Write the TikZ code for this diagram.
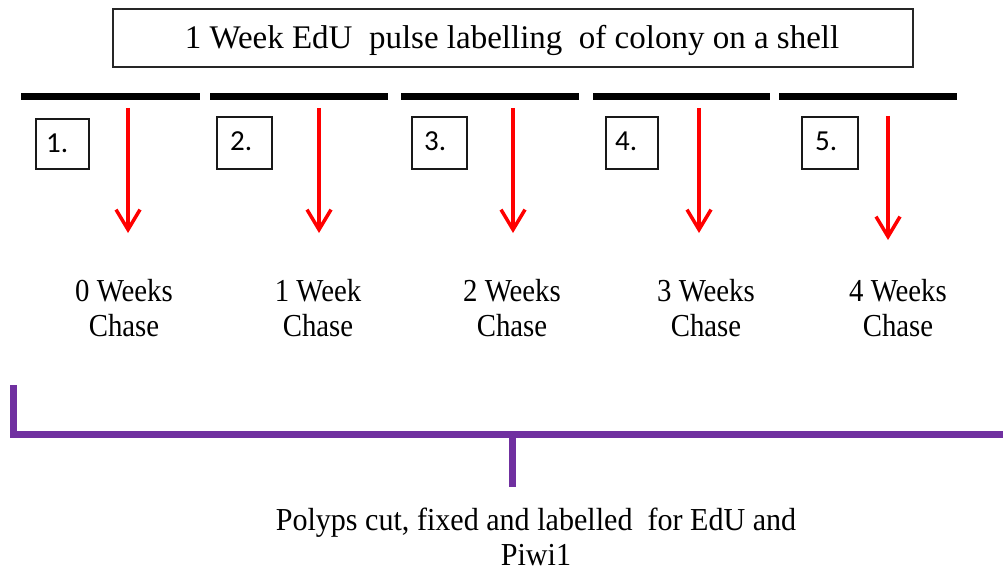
\documentclass[tikz,border=0pt]{standalone}
\usepackage{fontspec}
\setmainfont{Liberation Serif}
\newfontfamily\numfont{Carlito}
\usetikzlibrary{arrows.meta}
\definecolor{bracketpurple}{HTML}{7030A0}
\definecolor{arrowred}{HTML}{FF0000}
\tikzset{
  titlebox/.style={draw=black!85, line width=1.8pt, minimum width=800pt, minimum height=58pt, inner sep=0pt},
  timebar/.style={line width=7pt, black},
  numbox/.style={draw=black!90, line width=1.8pt, inner sep=0pt},
  numtext/.style={anchor=west, inner sep=0pt, font=\numfont\fontsize{29}{31}\selectfont},
  redarrow/.style={draw=arrowred, line width=3.5pt, -{Straight Barb[length=20pt, width=24pt, line width=3.5pt]}},
  chase/.style={align=center, inner sep=0pt, font=\fontsize{32}{35}\selectfont},
  purpleline/.style={draw=bracketpurple, line width=7pt},
  bottomtext/.style={align=center, inner sep=0pt, font=\fontsize{32}{35}\selectfont}
}
\newcommand{\narrow}[1]{\scalebox{0.9}[1]{#1}}
\newcommand{\narrowb}[1]{\scalebox{0.94}[1]{#1}}
\begin{document}
\begin{tikzpicture}[x=1pt,y=-1pt]
\useasboundingbox (0,0) rectangle (1003,572);
% title
\node[titlebox] (title) at (513,38) {};
\node[inner sep=0pt, font=\fontsize{33}{36}\selectfont] (titletext) at (512,40) {1 Week EdU\ \ pulse labelling\ \ of colony on a shell};
% bars
\draw[timebar] (21,97) coordinate (b1l) -- (200,97) coordinate (b1r);
\draw[timebar] (210,97) coordinate (b2l) -- (388,97) coordinate (b2r);
\draw[timebar] (401,97) coordinate (b3l) -- (579,97) coordinate (b3r);
\draw[timebar] (593,97) coordinate (b4l) -- (770,97) coordinate (b4r);
\draw[timebar] (779,97) coordinate (b5l) -- (957,97) coordinate (b5r);
% number boxes
\draw[numbox] (36,119) rectangle (89,169);
\draw[numbox] (217,117) rectangle (272,169);
\draw[numbox] (412,117) rectangle (467,169);
\draw[numbox] (606,117) rectangle (658,169);
\draw[numbox] (802,117) rectangle (858,169);
\node[numtext] (n1) at (46,143) {1.};
\node[numtext] (n2) at (230,141) {2.};
\node[numtext] (n3) at (424,141) {3.};
\node[numtext] (n4) at (615,141) {4.};
\node[numtext] (n5) at (815,141) {5.};
% arrows
\coordinate (a1s) at (128,108); \coordinate (a1e) at (128,233);
\coordinate (a2s) at (319,108); \coordinate (a2e) at (319,233);
\coordinate (a3s) at (513,108); \coordinate (a3e) at (513,233);
\coordinate (a4s) at (699,108); \coordinate (a4e) at (699,233);
\coordinate (a5s) at (888,116); \coordinate (a5e) at (888,240);
\draw[redarrow] (a1s) -- (a1e);
\draw[redarrow] (a2s) -- (a2e);
\draw[redarrow] (a3s) -- (a3e);
\draw[redarrow] (a4s) -- (a4e);
\draw[redarrow] (a5s) -- (a5e);
% chase labels
\node[chase] (c0) at (124,308) {\narrow{0 Weeks}\\\narrow{Chase}};
\node[chase] (c1) at (318,308) {\narrow{1 Week}\\\narrow{Chase}};
\node[chase] (c2) at (512,308) {\narrow{2 Weeks}\\\narrow{Chase}};
\node[chase] (c3) at (706,308) {\narrow{3 Weeks}\\\narrow{Chase}};
\node[chase] (c4) at (898,308) {\narrow{4 Weeks}\\\narrow{Chase}};
% bracket
\coordinate (pl) at (13,385);
\coordinate (pc) at (13,434);
\coordinate (pr) at (1010,434);
\coordinate (pm) at (512,434);
\coordinate (pb) at (512,487);
\draw[purpleline] (pl) -- (pc) -- (pr);
\draw[purpleline] (pm) -- (pb);
% bottom text
\node[bottomtext] (bottom) at (536,537) {\narrowb{Polyps cut, fixed and labelled\ \ for EdU and}\\\narrowb{Piwi1}};
\end{tikzpicture}
\end{document}
